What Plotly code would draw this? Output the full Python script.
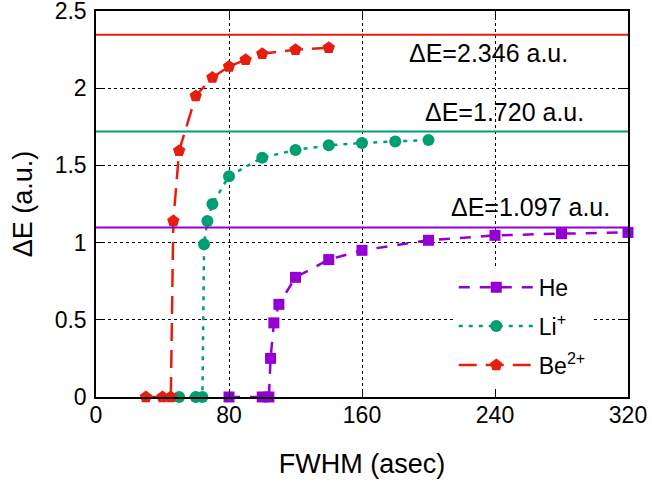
import plotly.graph_objects as go

# ---- data ----
he_x = [80, 100, 104, 105, 107, 110, 120, 140, 160, 200, 240, 280, 320]
he_y = [0, 0, 0, 0.25, 0.48, 0.60, 0.775, 0.89, 0.95, 1.015, 1.047, 1.058, 1.066]

li_x = [50, 60, 64, 65, 67, 70, 80, 100, 120, 140, 160, 180, 200]
li_y = [0, 0, 0, 0.99, 1.14, 1.25, 1.43, 1.55, 1.60, 1.63, 1.645, 1.655, 1.665]

be_x = [30, 40, 45, 46.5, 50, 60, 70, 80, 90, 100, 120, 140]
be_y = [0, 0, 0, 1.14, 1.595, 1.95, 2.07, 2.14, 2.185, 2.223, 2.249, 2.262]

series_names = ["He", "Li<sup>+</sup>", "Be<sup>2+</sup>"]
delta_e = [1.097, 1.720, 2.346]
delta_labels = ["ΔE=1.097 a.u.", "ΔE=1.720 a.u.", "ΔE=2.346 a.u."]
label_x = [261.5, 245.5, 236]
label_y = [1.23, 1.848, 2.228]

x_ticks = [0, 80, 160, 240, 320]
y_ticks = [0, 0.5, 1, 1.5, 2, 2.5]
y_tick_text = ["0", "0.5", "1", "1.5", "2", "2.5"]

colors = ["#9400d3", "#009e73", "#e51e10"]
FONT = "Liberation Sans, Arial, Helvetica, sans-serif"

fig = go.Figure()

styles = [
    dict(dash="11px,10px", symbol="square", size=11),
    dict(dash="4px,6px", symbol="circle", size=12),
    dict(dash="18px,9px", symbol="pentagon", size=13),
]
data = [(he_x, he_y), (li_x, li_y), (be_x, be_y)]

for (xs, ys), name, col, st in zip(data, series_names, colors, styles):
    fig.add_trace(go.Scatter(
        x=xs, y=ys, name=name, mode="lines+markers",
        line=dict(color=col, width=2.5, dash=st["dash"]),
        marker=dict(color=col, symbol=st["symbol"], size=st["size"]),
        cliponaxis=False, legendgroup=name,
    ))

for val, col, txt, lx, ly in zip(delta_e, colors, delta_labels, label_x, label_y):
    fig.add_shape(type="line", xref="x domain", yref="y", x0=0, x1=1, y0=val, y1=val,
                  line=dict(color=col, width=2), layer="above")
    fig.add_annotation(x=lx, y=ly, xref="x", yref="y", text=txt, showarrow=False,
                       xanchor="center", yanchor="middle",
                       font=dict(family=FONT, size=25, color="black"))

axis_common = dict(
    showline=True, linecolor="black", linewidth=1.5, mirror="ticks",
    ticks="inside", ticklen=7, tickwidth=1, tickcolor="black",
    showgrid=True, gridcolor="black", gridwidth=1, griddash="dot",
    zeroline=False, automargin=False, ticklabeloverflow="allow",
    tickfont=dict(family=FONT, size=23, color="black"),
)

fig.update_xaxes(range=[0, 320], tickvals=x_ticks, ticklabelstandoff=-3,
                 title=dict(text="FWHM (asec)", font=dict(family=FONT, size=27, color="black"), standoff=27),
                 **axis_common)
fig.update_yaxes(range=[-0.0001, 2.5001], tickvals=y_ticks, ticktext=y_tick_text,
                 ticklabelstandoff=3,
                 title=dict(text="ΔE (a.u.)", font=dict(family=FONT, size=27, color="black"), standoff=14),
                 **axis_common)

fig.update_layout(
    width=652, height=486,
    margin=dict(l=96, r=24, t=11, b=89, autoexpand=False),
    paper_bgcolor="white", plot_bgcolor="white",
    font=dict(family=FONT, color="black"),
    legend=dict(x=0.93, y=0.34, xanchor="right", yanchor="top",
                bgcolor="white", borderwidth=0, itemwidth=75,
                traceorder="grouped", tracegroupgap=6,
                font=dict(family=FONT, size=23, color="black")),
)

fig.write_html("out.html", config={"displayModeBar": False},
               post_script="document.body.style.margin='0';document.body.style.overflow='hidden';")
